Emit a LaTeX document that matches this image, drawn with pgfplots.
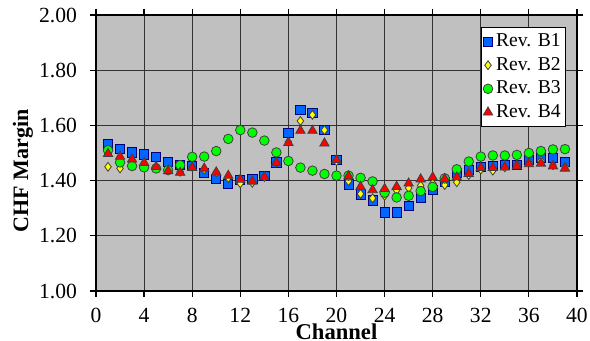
\documentclass[border=0pt]{standalone}
\usepackage{fontspec}
\setmainfont{Liberation Serif}
\usepackage{pgfplots}
\usepackage{pgfplotstable}
\pgfplotsset{compat=1.18}
\definecolor{plotbg}{RGB}{192,192,192}
\definecolor{mblue}{RGB}{0,102,255}
\definecolor{mnavy}{RGB}{0,0,128}
\definecolor{myellow}{RGB}{255,255,0}
\definecolor{mgreen}{RGB}{0,255,0}
\definecolor{mred}{RGB}{255,0,0}
\pgfplotstableread{
ch b1 b2 b3 b4
1 1.531 1.450 1.510 1.497
2 1.515 1.444 1.466 1.487
3 1.502 1.452 1.453 1.477
4 1.495 1.450 1.448 1.465
5 1.486 1.448 1.444 1.450
6 1.468 1.440 1.438 1.435
7 1.456 1.432 1.456 1.429
8 1.452 1.450 1.486 1.446
9 1.428 1.440 1.487 1.444
10 1.406 1.430 1.507 1.430
11 1.388 1.410 1.551 1.418
12 1.403 1.390 1.583 1.404
13 1.405 1.392 1.574 1.397
14 1.417 1.413 1.545 1.413
15 1.466 1.465 1.502 1.465
16 1.574 1.540 1.471 1.537
17 1.656 1.616 1.447 1.581
18 1.646 1.638 1.436 1.581
19 1.583 1.583 1.424 1.535
20 1.475 1.470 1.418 1.475
21 1.386 1.398 1.418 1.416
22 1.350 1.352 1.410 1.378
23 1.328 1.336 1.397 1.366
24 1.285 1.345 1.356 1.370
25 1.285 1.365 1.339 1.378
26 1.308 1.373 1.345 1.390
27 1.338 1.382 1.362 1.405
28 1.367 1.390 1.377 1.412
29 1.395 1.384 1.408 1.406
30 1.428 1.394 1.441 1.412
31 1.438 1.420 1.469 1.425
32 1.450 1.440 1.487 1.446
33 1.453 1.436 1.491 1.446
34 1.457 1.448 1.491 1.448
35 1.458 1.458 1.493 1.452
36 1.476 1.466 1.500 1.460
37 1.484 1.472 1.507 1.462
38 1.482 1.456 1.513 1.452
39 1.467 1.450 1.514 1.444
}\datatable
\begin{document}
\begin{tikzpicture}
\useasboundingbox (-48pt,-25pt) rectangle (247pt,145.5pt);
\begin{axis}[
  at={(0,0)}, anchor=south west,
  scale only axis, width=240.5pt, height=138pt,
  xmin=0, xmax=40, ymin=1, ymax=2,
  xtick={0,4,...,40},
  ytick={1,1.2,1.4,1.6,1.8,2},
  axis background/.style={fill=plotbg},
  axis line style={black, line width=0.8pt},
  grid=major,
  major grid style={black!80, line width=0.5pt},
  tick align=outside,
  major tick length=3pt,
  tick style={black, line width=0.6pt},
  every tick label/.append style={font=\fontsize{10.8}{12}\selectfont},
  /pgf/number format/assume math mode=true,
  xticklabel style={yshift=-2pt},
  yticklabel style={xshift=-3pt, /pgf/number format/.cd, fixed, fixed zerofill, precision=2},
  xlabel={Channel},
  ylabel={CHF Margin},
  xlabel style={font=\fontsize{11.3}{13}\selectfont\bfseries, at={(axis description cs:0.5,-0.174)}, anchor=base},
  ylabel style={font=\fontsize{11}{13}\selectfont\bfseries, at={(axis description cs:-0.141,0.435)}, anchor=base},
  legend style={at={(axis description cs:0.977,0.9565)}, anchor=north east,
    draw=black, line width=0.5pt, fill=white, font=\fontsize{9.8}{11}\selectfont,
    inner xsep=0.8pt, inner ysep=1.5pt, row sep=0.6pt,
    nodes={inner sep=1.6pt}},
  legend cell align=left,
  legend image code/.code={\draw[mark repeat=2,mark phase=2,#1] plot coordinates {(0pt,0pt) (3pt,0pt) (6pt,0pt)};},
]
\addplot[only marks, mark=square*, mark size=2.3pt, mark options={draw=mnavy, fill=mblue, line width=0.4pt}] table[x=ch, y=b1] {\datatable};
\addlegendentry{Rev. B1}
\addplot[only marks, mark=diamond*, mark size=2.2pt, mark options={draw=black!75, fill=myellow, line width=0.4pt}] table[x=ch, y=b2] {\datatable};
\addlegendentry{Rev. B2}
\addplot[only marks, mark=*, mark size=2.4pt, mark options={draw=black!75, fill=mgreen, line width=0.4pt}] table[x=ch, y=b3] {\datatable};
\addlegendentry{Rev. B3}
\addplot[only marks, mark=triangle*, mark size=2.7pt, mark options={draw=black!75, fill=mred, line width=0.4pt}] table[x=ch, y=b4] {\datatable};
\addlegendentry{Rev. B4}
\end{axis}
\end{tikzpicture}
\end{document}
